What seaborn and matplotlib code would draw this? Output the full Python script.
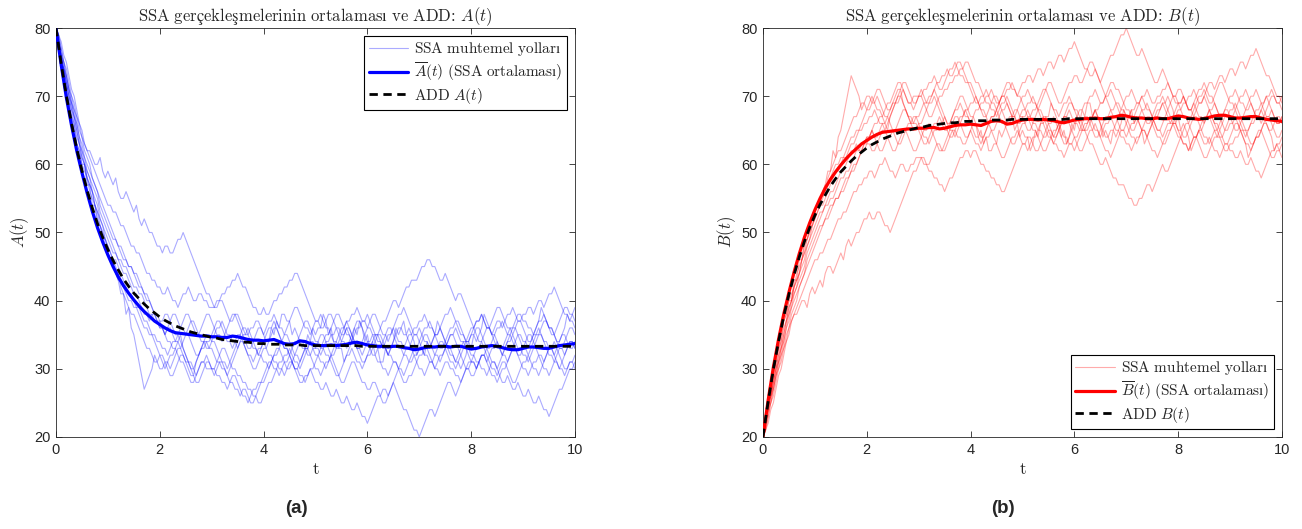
"""
SSA realisations vs. mean vs. ODE (ADD) for the A <-> B reaction.
Two panels: A(t) on the left, B(t) on the right.
"""

import numpy as np
import matplotlib
matplotlib.use("Agg")
import matplotlib.pyplot as plt
import seaborn as sns

# time grids: SSA paths are sampled every 0.05, mean and ODE every 0.1
t_path = np.round(np.arange(201) * 0.05, 2)
t = np.round(np.arange(101) * 0.1, 1)

# SSA sample paths for A(t) (molecule counts)
path_1 = [80, 78, 76, 74, 73, 71, 70, 68, 67, 66, 64, 63, 62, 62, 61, 60, 60, 61, 59, 58, 59,
          58, 57, 58, 56, 55, 55, 56, 55, 54, 53, 54, 52, 51, 52, 51, 50, 50, 49, 48, 48,
          47, 48, 48, 47, 47, 48, 49, 49, 50, 49, 48, 47, 46, 45, 44, 43, 42, 41, 41, 40,
          39, 39, 40, 40, 39, 38, 37, 37, 38, 38, 37, 36, 35, 35, 36, 36, 37, 37, 36, 35,
          34, 34, 36, 35, 37, 36, 38, 38, 37, 37, 35, 36, 35, 34, 33, 33, 35, 34, 36, 35,
          36, 36, 38, 37, 35, 36, 34, 34, 33, 33, 31, 32, 33, 34, 36, 35, 37, 36, 34, 35,
          33, 34, 32, 33, 31, 31, 33, 32, 33, 34, 36, 35, 36, 37, 35, 36, 35, 34, 32, 33,
          33, 32, 34, 33, 34, 35, 37, 36, 35, 34, 33, 33, 32, 31, 31, 30, 31, 32, 34, 33,
          35, 34, 35, 36, 38, 37, 36, 35, 35, 34, 33, 33, 34, 35, 36, 36, 37, 38, 38, 37,
          37, 36, 36, 35, 36, 37, 39, 38, 37, 36, 35, 35, 34, 34, 35, 36, 38, 37, 37, 36]
path_2 = [80, 78, 75, 74, 71, 69, 67, 66, 63, 62, 60, 60, 57, 57, 54, 54, 51, 51, 49, 49, 47,
          46, 46, 44, 43, 41, 41, 38, 39, 36, 35, 33, 31, 29, 27, 28, 29, 30, 32, 31, 32,
          31, 30, 31, 32, 32, 33, 34, 35, 33, 32, 31, 30, 29, 31, 32, 33, 34, 35, 35, 34,
          34, 33, 32, 31, 31, 30, 31, 32, 33, 34, 35, 36, 36, 35, 34, 33, 33, 32, 33, 34,
          35, 36, 36, 37, 36, 35, 34, 33, 33, 32, 31, 30, 30, 31, 32, 33, 33, 34, 33, 32,
          32, 31, 31, 30, 31, 32, 33, 34, 35, 36, 36, 37, 36, 35, 34, 33, 33, 34, 35, 36,
          37, 38, 38, 37, 36, 35, 35, 34, 35, 36, 37, 38, 38, 39, 38, 37, 36, 35, 35, 34,
          33, 32, 32, 31, 31, 30, 31, 32, 32, 33, 34, 35, 35, 34, 33, 32, 31, 30, 30, 29,
          29, 30, 31, 32, 32, 33, 32, 31, 31, 30, 31, 32, 33, 34, 34, 35, 34, 33, 33, 32,
          32, 31, 32, 33, 34, 35, 35, 34, 33, 32, 32, 31, 31, 30, 31, 32, 33, 34, 34, 33]
path_3 = [80, 79, 77, 75, 73, 71, 69, 68, 66, 64, 62, 61, 59, 58, 56, 55, 54, 52, 51, 50, 49,
          48, 47, 47, 46, 45, 44, 44, 43, 42, 41, 41, 40, 39, 38, 38, 37, 38, 38, 37, 36,
          36, 35, 36, 36, 35, 34, 34, 33, 34, 35, 36, 37, 37, 36, 35, 34, 34, 33, 33, 34,
          35, 36, 36, 37, 36, 35, 35, 34, 34, 33, 34, 35, 35, 36, 35, 34, 33, 32, 32, 31,
          31, 30, 31, 32, 32, 33, 34, 35, 35, 34, 33, 32, 32, 31, 32, 33, 33, 32, 31, 30,
          30, 29, 30, 31, 31, 32, 31, 30, 29, 28, 28, 29, 30, 31, 31, 30, 29, 28, 28, 27,
          27, 28, 28, 27, 26, 25, 25, 26, 27, 28, 27, 26, 25, 24, 24, 23, 22, 21, 21, 20,
          21, 22, 23, 24, 24, 23, 24, 25, 26, 27, 28, 28, 27, 26, 27, 28, 29, 30, 31, 31,
          31, 30, 31, 32, 32, 31, 32, 33, 33, 34, 33, 32, 32, 31, 32, 33, 34, 35, 35, 34,
          34, 33, 34, 35, 35, 36, 35, 34, 34, 33, 33, 32, 33, 34, 35, 35, 34, 33, 33, 34]
path_4 = [80, 78, 76, 74, 72, 70, 68, 67, 65, 63, 62, 60, 58, 57, 56, 54, 53, 52, 51, 49, 48,
          47, 46, 46, 45, 44, 43, 42, 41, 41, 40, 39, 39, 38, 37, 37, 36, 35, 35, 34, 34,
          33, 33, 32, 33, 34, 34, 35, 34, 33, 32, 31, 31, 30, 31, 32, 33, 34, 34, 33, 33,
          32, 31, 31, 30, 30, 29, 30, 31, 32, 33, 34, 34, 33, 32, 31, 30, 30, 31, 32, 33,
          33, 34, 35, 36, 36, 35, 34, 33, 33, 32, 33, 34, 34, 35, 36, 37, 37, 36, 35, 34,
          34, 33, 34, 35, 35, 36, 37, 38, 38, 37, 36, 35, 35, 34, 35, 36, 36, 37, 37, 38,
          37, 36, 35, 35, 36, 37, 37, 38, 39, 40, 40, 39, 40, 41, 42, 42, 43, 43, 43, 44,
          45, 45, 46, 46, 45, 45, 44, 43, 43, 44, 43, 42, 41, 40, 41, 41, 40, 39, 38, 37,
          36, 35, 34, 34, 35, 36, 36, 35, 34, 33, 33, 32, 33, 34, 35, 36, 36, 35, 34, 33,
          33, 32, 33, 34, 35, 35, 36, 37, 37, 36, 36, 35, 34, 33, 33, 34, 35, 36, 36, 35]
path_5 = [80, 78, 75, 74, 72, 70, 68, 66, 64, 63, 61, 60, 59, 58, 57, 56, 55, 53, 52, 51, 50,
          49, 48, 47, 46, 46, 45, 45, 44, 43, 42, 42, 41, 41, 40, 39, 38, 38, 37, 37, 36,
          36, 35, 36, 37, 38, 38, 37, 36, 36, 35, 35, 34, 33, 32, 32, 33, 33, 34, 34, 35,
          36, 37, 37, 36, 35, 34, 34, 33, 34, 35, 35, 34, 33, 32, 32, 31, 32, 33, 33, 34,
          33, 32, 32, 31, 31, 30, 30, 29, 30, 31, 31, 30, 29, 28, 28, 29, 29, 30, 29, 28,
          28, 27, 27, 28, 27, 26, 26, 27, 26, 25, 25, 26, 25, 24, 24, 25, 24, 23, 23, 22,
          23, 24, 25, 26, 26, 27, 27, 26, 27, 28, 29, 30, 30, 29, 30, 31, 31, 32, 31, 30,
          30, 29, 30, 31, 31, 32, 33, 34, 34, 33, 32, 31, 31, 30, 31, 32, 33, 34, 34, 35,
          35, 36, 36, 35, 34, 33, 33, 34, 35, 36, 36, 37, 36, 35, 35, 34, 33, 32, 32, 33,
          34, 35, 35, 34, 33, 32, 32, 31, 32, 33, 33, 34, 33, 32, 31, 30, 30, 31, 31, 32]
path_6 = [80, 79, 77, 75, 74, 72, 70, 69, 67, 65, 64, 62, 61, 60, 58, 57, 56, 55, 54, 53, 52,
          51, 50, 49, 48, 48, 47, 46, 45, 45, 44, 43, 42, 42, 41, 40, 40, 39, 38, 37, 37,
          36, 35, 34, 34, 33, 33, 32, 31, 31, 30, 29, 28, 28, 29, 30, 31, 31, 30, 30, 30,
          29, 30, 31, 31, 30, 29, 28, 28, 27, 27, 26, 27, 27, 26, 25, 25, 26, 27, 28, 28,
          29, 30, 31, 32, 33, 33, 32, 31, 30, 30, 31, 32, 33, 34, 34, 33, 32, 32, 33, 33,
          34, 35, 35, 34, 33, 32, 32, 33, 34, 35, 35, 36, 35, 34, 34, 33, 32, 31, 31, 32,
          32, 33, 34, 35, 35, 34, 33, 32, 32, 31, 31, 30, 31, 32, 33, 33, 34, 35, 35, 36,
          35, 34, 34, 33, 34, 35, 35, 36, 35, 34, 33, 32, 32, 31, 32, 33, 34, 34, 33, 32,
          32, 31, 31, 30, 30, 29, 30, 31, 31, 30, 29, 28, 28, 29, 28, 27, 27, 28, 27, 26,
          26, 27, 26, 25, 25, 26, 25, 24, 24, 23, 24, 25, 26, 27, 27, 28, 29, 30, 30, 31]
path_7 = [80, 78, 76, 75, 73, 71, 69, 67, 66, 64, 63, 61, 60, 59, 58, 57, 56, 54, 53, 52, 51,
          50, 49, 49, 48, 47, 46, 46, 45, 45, 44, 44, 43, 42, 41, 41, 40, 39, 38, 38, 37,
          37, 38, 38, 37, 36, 35, 35, 36, 37, 38, 38, 37, 36, 35, 35, 36, 37, 38, 38, 37,
          36, 35, 35, 34, 35, 36, 37, 38, 38, 37, 36, 35, 34, 33, 33, 34, 35, 36, 36, 35,
          36, 37, 37, 38, 37, 36, 36, 35, 36, 37, 38, 39, 39, 38, 37, 36, 36, 35, 36, 37,
          37, 38, 37, 36, 36, 35, 34, 33, 33, 34, 35, 36, 36, 35, 34, 33, 33, 32, 33, 34,
          34, 35, 34, 33, 33, 34, 35, 36, 36, 35, 34, 33, 33, 32, 32, 31, 32, 33, 33, 34,
          35, 36, 36, 37, 36, 35, 35, 36, 37, 38, 38, 39, 38, 37, 37, 36, 35, 34, 34, 35,
          36, 37, 37, 38, 37, 36, 36, 35, 36, 37, 37, 36, 37, 38, 38, 39, 38, 37, 37, 38,
          38, 39, 39, 38, 39, 40, 40, 39, 40, 41, 41, 42, 41, 40, 39, 38, 38, 37, 38, 39]
path_8 = [80, 77, 75, 73, 71, 69, 67, 65, 63, 62, 60, 59, 58, 56, 55, 54, 52, 51, 50, 48, 47,
          46, 45, 44, 43, 43, 42, 41, 40, 40, 39, 39, 38, 37, 36, 36, 35, 35, 34, 33, 32,
          32, 31, 31, 30, 31, 32, 33, 33, 32, 31, 31, 30, 30, 29, 30, 31, 31, 32, 31, 30,
          30, 31, 32, 33, 33, 32, 31, 30, 30, 29, 29, 28, 28, 27, 27, 26, 26, 25, 25, 26,
          27, 28, 28, 29, 30, 31, 31, 32, 32, 33, 32, 31, 31, 30, 31, 32, 33, 34, 34, 33,
          33, 32, 33, 34, 34, 35, 35, 36, 35, 34, 34, 33, 34, 35, 36, 37, 37, 36, 35, 34,
          33, 32, 32, 31, 31, 30, 30, 29, 30, 31, 31, 30, 29, 28, 28, 29, 29, 30, 31, 32,
          32, 33, 33, 32, 31, 30, 30, 29, 30, 31, 31, 30, 30, 29, 29, 28, 29, 30, 30, 31,
          32, 33, 33, 34, 33, 32, 31, 30, 30, 29, 30, 31, 31, 30, 29, 28, 28, 29, 30, 31,
          31, 32, 31, 30, 30, 29, 30, 31, 32, 33, 33, 32, 31, 30, 30, 29, 30, 31, 31, 30]
path_9 = [80, 79, 78, 76, 75, 73, 71, 70, 68, 66, 65, 63, 62, 61, 60, 59, 58, 57, 56, 55, 54,
          54, 53, 53, 52, 51, 51, 50, 49, 48, 48, 47, 47, 46, 45, 44, 44, 43, 43, 42, 42,
          41, 41, 42, 41, 40, 40, 39, 40, 41, 41, 42, 41, 40, 40, 41, 41, 40, 40, 39, 39,
          39, 40, 40, 41, 41, 42, 42, 43, 43, 44, 43, 42, 42, 41, 40, 39, 39, 38, 38, 39,
          38, 38, 39, 40, 40, 41, 41, 42, 42, 43, 43, 44, 44, 43, 42, 41, 40, 39, 38, 37,
          37, 36, 36, 37, 38, 38, 37, 36, 36, 35, 36, 37, 37, 38, 38, 39, 38, 37, 37, 36,
          36, 35, 35, 34, 34, 33, 34, 35, 35, 36, 35, 34, 34, 33, 34, 35, 35, 36, 36, 37,
          37, 38, 37, 36, 36, 35, 34, 33, 33, 34, 35, 36, 36, 37, 36, 35, 35, 34, 35, 36,
          36, 37, 37, 38, 37, 36, 36, 37, 38, 39, 39, 38, 37, 36, 36, 35, 36, 37, 37, 36,
          35, 34, 34, 35, 36, 37, 37, 38, 37, 36, 36, 35, 36, 37, 38, 39, 39, 38, 38, 37]
path_10 = [80, 78, 76, 74, 72, 70, 69, 67, 65, 63, 61, 60, 58, 57, 56, 54, 53, 51, 50, 49, 48,
           47, 46, 45, 44, 42, 41, 40, 39, 38, 38, 37, 36, 35, 34, 33, 33, 32, 31, 31, 30,
           30, 31, 30, 29, 29, 30, 31, 32, 32, 31, 30, 29, 29, 28, 28, 29, 30, 31, 31, 30,
           30, 29, 29, 28, 28, 27, 28, 29, 29, 28, 27, 26, 26, 25, 26, 27, 27, 28, 28, 29,
           30, 31, 31, 30, 30, 29, 30, 31, 31, 32, 31, 30, 30, 29, 29, 28, 29, 30, 30, 31,
           32, 33, 33, 32, 32, 31, 30, 29, 29, 30, 31, 32, 32, 33, 32, 31, 31, 30, 31, 32,
           33, 34, 35, 35, 34, 33, 33, 32, 33, 34, 35, 36, 36, 35, 35, 34, 33, 32, 32, 33,
           34, 35, 35, 34, 33, 32, 32, 31, 32, 33, 34, 35, 35, 36, 35, 34, 34, 33, 32, 31,
           31, 30, 31, 32, 32, 31, 30, 29, 29, 28, 29, 30, 30, 31, 32, 33, 33, 32, 31, 30,
           30, 29, 30, 31, 31, 32, 31, 30, 30, 29, 30, 31, 32, 33, 33, 32, 33, 34, 34, 33]

# SSA ensemble mean of A(t)
mean_a = [80.0, 74.6, 69.8, 65.7, 62.0, 58.8, 55.8, 53.1, 50.7, 48.6, 46.7,
          45.0, 43.5, 42.2, 41.1, 40.1, 39.2, 38.4, 37.7, 37.0, 36.5,
          36.0, 35.6, 35.3, 35.2, 35.1, 35.0, 34.9, 34.8, 34.8, 34.7,
          34.7, 34.6, 34.6, 34.8, 34.7, 34.5, 34.3, 34.2, 34.2, 34.1,
          34.2, 34.3, 34.0, 33.7, 33.6, 33.7, 34.1, 34.0, 33.7, 33.5,
          33.4, 33.4, 33.5, 33.4, 33.5, 33.6, 33.8, 33.9, 33.7, 33.5,
          33.4, 33.3, 33.3, 33.2, 33.3, 33.3, 33.1, 33.0, 32.8, 32.9,
          33.1, 33.2, 33.2, 33.3, 33.3, 33.2, 33.3, 33.3, 33.1, 32.9,
          33.0, 33.2, 33.3, 33.4, 33.3, 33.1, 32.9, 32.8, 32.8, 33.0,
          33.2, 33.2, 33.1, 33.0, 33.0, 33.2, 33.4, 33.5, 33.6, 33.7]

# ODE (ADD) solution for A(t)
ode_a = [80.0, 74.8, 70.1, 66.0, 62.3, 59.1, 56.2, 53.6, 51.3, 49.3, 47.5,
         45.9, 44.5, 43.2, 42.1, 41.1, 40.3, 39.5, 38.8, 38.2, 37.6,
         37.1, 36.7, 36.3, 36.0, 35.7, 35.4, 35.2, 35.0, 34.8, 34.6,
         34.5, 34.3, 34.2, 34.1, 34.0, 33.9, 33.9, 33.8, 33.7, 33.7,
         33.6, 33.6, 33.6, 33.5, 33.5, 33.5, 33.5, 33.4, 33.4, 33.4,
         33.4, 33.4, 33.4, 33.4, 33.4, 33.4, 33.4, 33.4, 33.3, 33.3,
         33.3, 33.3, 33.3, 33.3, 33.3, 33.3, 33.3, 33.3, 33.3, 33.3,
         33.3, 33.3, 33.3, 33.3, 33.3, 33.3, 33.3, 33.3, 33.3, 33.3,
         33.3, 33.3, 33.3, 33.3, 33.3, 33.3, 33.3, 33.3, 33.3, 33.3,
         33.3, 33.3, 33.3, 33.3, 33.3, 33.3, 33.3, 33.3, 33.3, 33.3]

# A + B is conserved in every realisation, the right panel mirrors the left
TOTAL = 100

paths_a = [path_1, path_2, path_3, path_4, path_5,
           path_6, path_7, path_8, path_9, path_10]
for i, p in enumerate(paths_a, 1):
    assert len(p) == len(t_path), f"path_{i} has {len(p)} values"

paths_b = [TOTAL - np.array(p) for p in paths_a]
mean_b = TOTAL - np.array(mean_a)
ode_b = TOTAL - np.array(ode_a)

sns.set_theme(style="white")
plt.rcParams["font.family"] = ["Liberation Sans", "DejaVu Sans"]
plt.rcParams["mathtext.fontset"] = "cm"

fig = plt.figure(figsize=(13.02, 5.29), dpi=100)
ax_a = fig.add_axes([0.0430, 0.174, 0.3986, 0.773])
ax_b = fig.add_axes([0.5860, 0.174, 0.3986, 0.773])


def draw_panel(ax, paths, mean, ode, color, var, legend_loc):
    for p in paths:
        sns.lineplot(x=t_path, y=p, ax=ax, color=color, alpha=0.33,
                     linewidth=0.8, zorder=1)
    sns.lineplot(x=t, y=mean, ax=ax, color=color, linewidth=2.3, zorder=3)
    sns.lineplot(x=t, y=ode, ax=ax, color="black", linewidth=2.0,
                 linestyle=(0, (3, 2)), zorder=4)

    lines = ax.get_lines()
    n = len(paths)
    ax.legend([lines[0], lines[n], lines[n + 1]],
              [r"$\mathrm{SSA\ muhtemel\ yolları}$",
               r"$\overline{%s}(t)\ \mathrm{(SSA\ ortalaması)}$" % var,
               r"$\mathrm{ADD}\ %s(t)$" % var],
              loc=legend_loc, fontsize=11, frameon=True, fancybox=False,
              edgecolor="black", framealpha=1, handlelength=2.6,
              handletextpad=0.4, labelspacing=0.15, borderpad=0.3,
              borderaxespad=0.5)
    ax.get_legend().get_frame().set_linewidth(0.8)

    ax.set_xlim(0, 10)
    ax.set_ylim(20, 80)
    ax.set_xticks(range(0, 11, 2))
    ax.set_yticks(range(20, 81, 10))
    ax.tick_params(direction="in", top=True, right=True, bottom=True,
                   left=True, length=4, width=0.6, colors="#262626",
                   labelsize=10.5, pad=4)
    for s in ax.spines.values():
        s.set_color("#262626")
        s.set_linewidth(0.6)

    ax.set_title(r"$\mathrm{SSA\ gerçekleşmelerinin\ ortalaması\ ve\ ADD\!:\!}\ %s(t)$" % var,
                 fontsize=12, pad=5)
    ax.set_xlabel(r"$\mathrm{t}$", fontsize=12, labelpad=4)
    ax.set_ylabel(r"$%s(t)$" % var, fontsize=12, labelpad=2)


draw_panel(ax_a, paths_a, mean_a, ode_a, "blue", "A", "upper right")
draw_panel(ax_b, paths_b, mean_b, ode_b, "red", "B", "lower right")

fig.text(0.228, 0.030, "(a)", fontsize=13.5, fontweight="bold", ha="center")
fig.text(0.770, 0.030, "(b)", fontsize=13.5, fontweight="bold", ha="center")

fig.savefig("out.png", dpi=100)
